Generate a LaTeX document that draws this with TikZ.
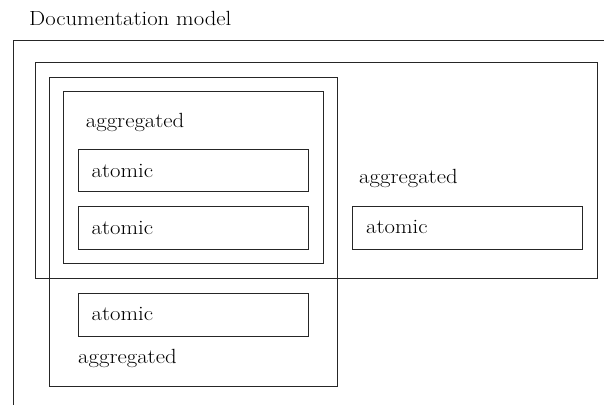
\documentclass[tikz,border=0pt]{standalone}
\usepackage{graphicx}
\newcommand{\wtxt}[1]{\scalebox{1.11}[1]{#1}}
\begin{document}
\begin{tikzpicture}[x=1pt,y=-1pt,
  frame/.style={draw=black!85, line width=0.9pt},
  lbl/.style={anchor=base west, inner sep=0pt, font=\fontsize{20.5}{24}\selectfont}]
\useasboundingbox (0,0) rectangle (604,405);
% title
\node[lbl] (title) at (29,25.7) {\wtxt{Documentation model}};
% outer frame (only top and left edges visible)
\coordinate (o1) at (604,40);
\coordinate (o2) at (13,40);
\coordinate (o3) at (13,405);
\draw[frame] (o1) -- (o2) -- (o3);
% boxes
\draw[frame] (35,62) rectangle (597,278);
\draw[frame] (49,77) rectangle (337,386);
\draw[frame] (63,91) rectangle (323,263);
\draw[frame] (78,149) rectangle (308,191);
\draw[frame] (78,206) rectangle (308,249);
\draw[frame] (78,293) rectangle (308,336);
\draw[frame] (352,206) rectangle (582,249);
% labels
\node[lbl] (aggC) at (85.7,127.7) {\wtxt{aggregated}};
\node[lbl] (at1) at (91.5,177) {\wtxt{atomic}};
\node[lbl] (at2) at (91.5,234.3) {\wtxt{atomic}};
\node[lbl] (at3) at (91.5,320.7) {\wtxt{atomic}};
\node[lbl] (aggB) at (78,363.3) {\wtxt{aggregated}};
\node[lbl] (aggA) at (359,183) {\wtxt{aggregated}};
\node[lbl] (at4) at (366,233.3) {\wtxt{atomic}};
\end{tikzpicture}
\end{document}
